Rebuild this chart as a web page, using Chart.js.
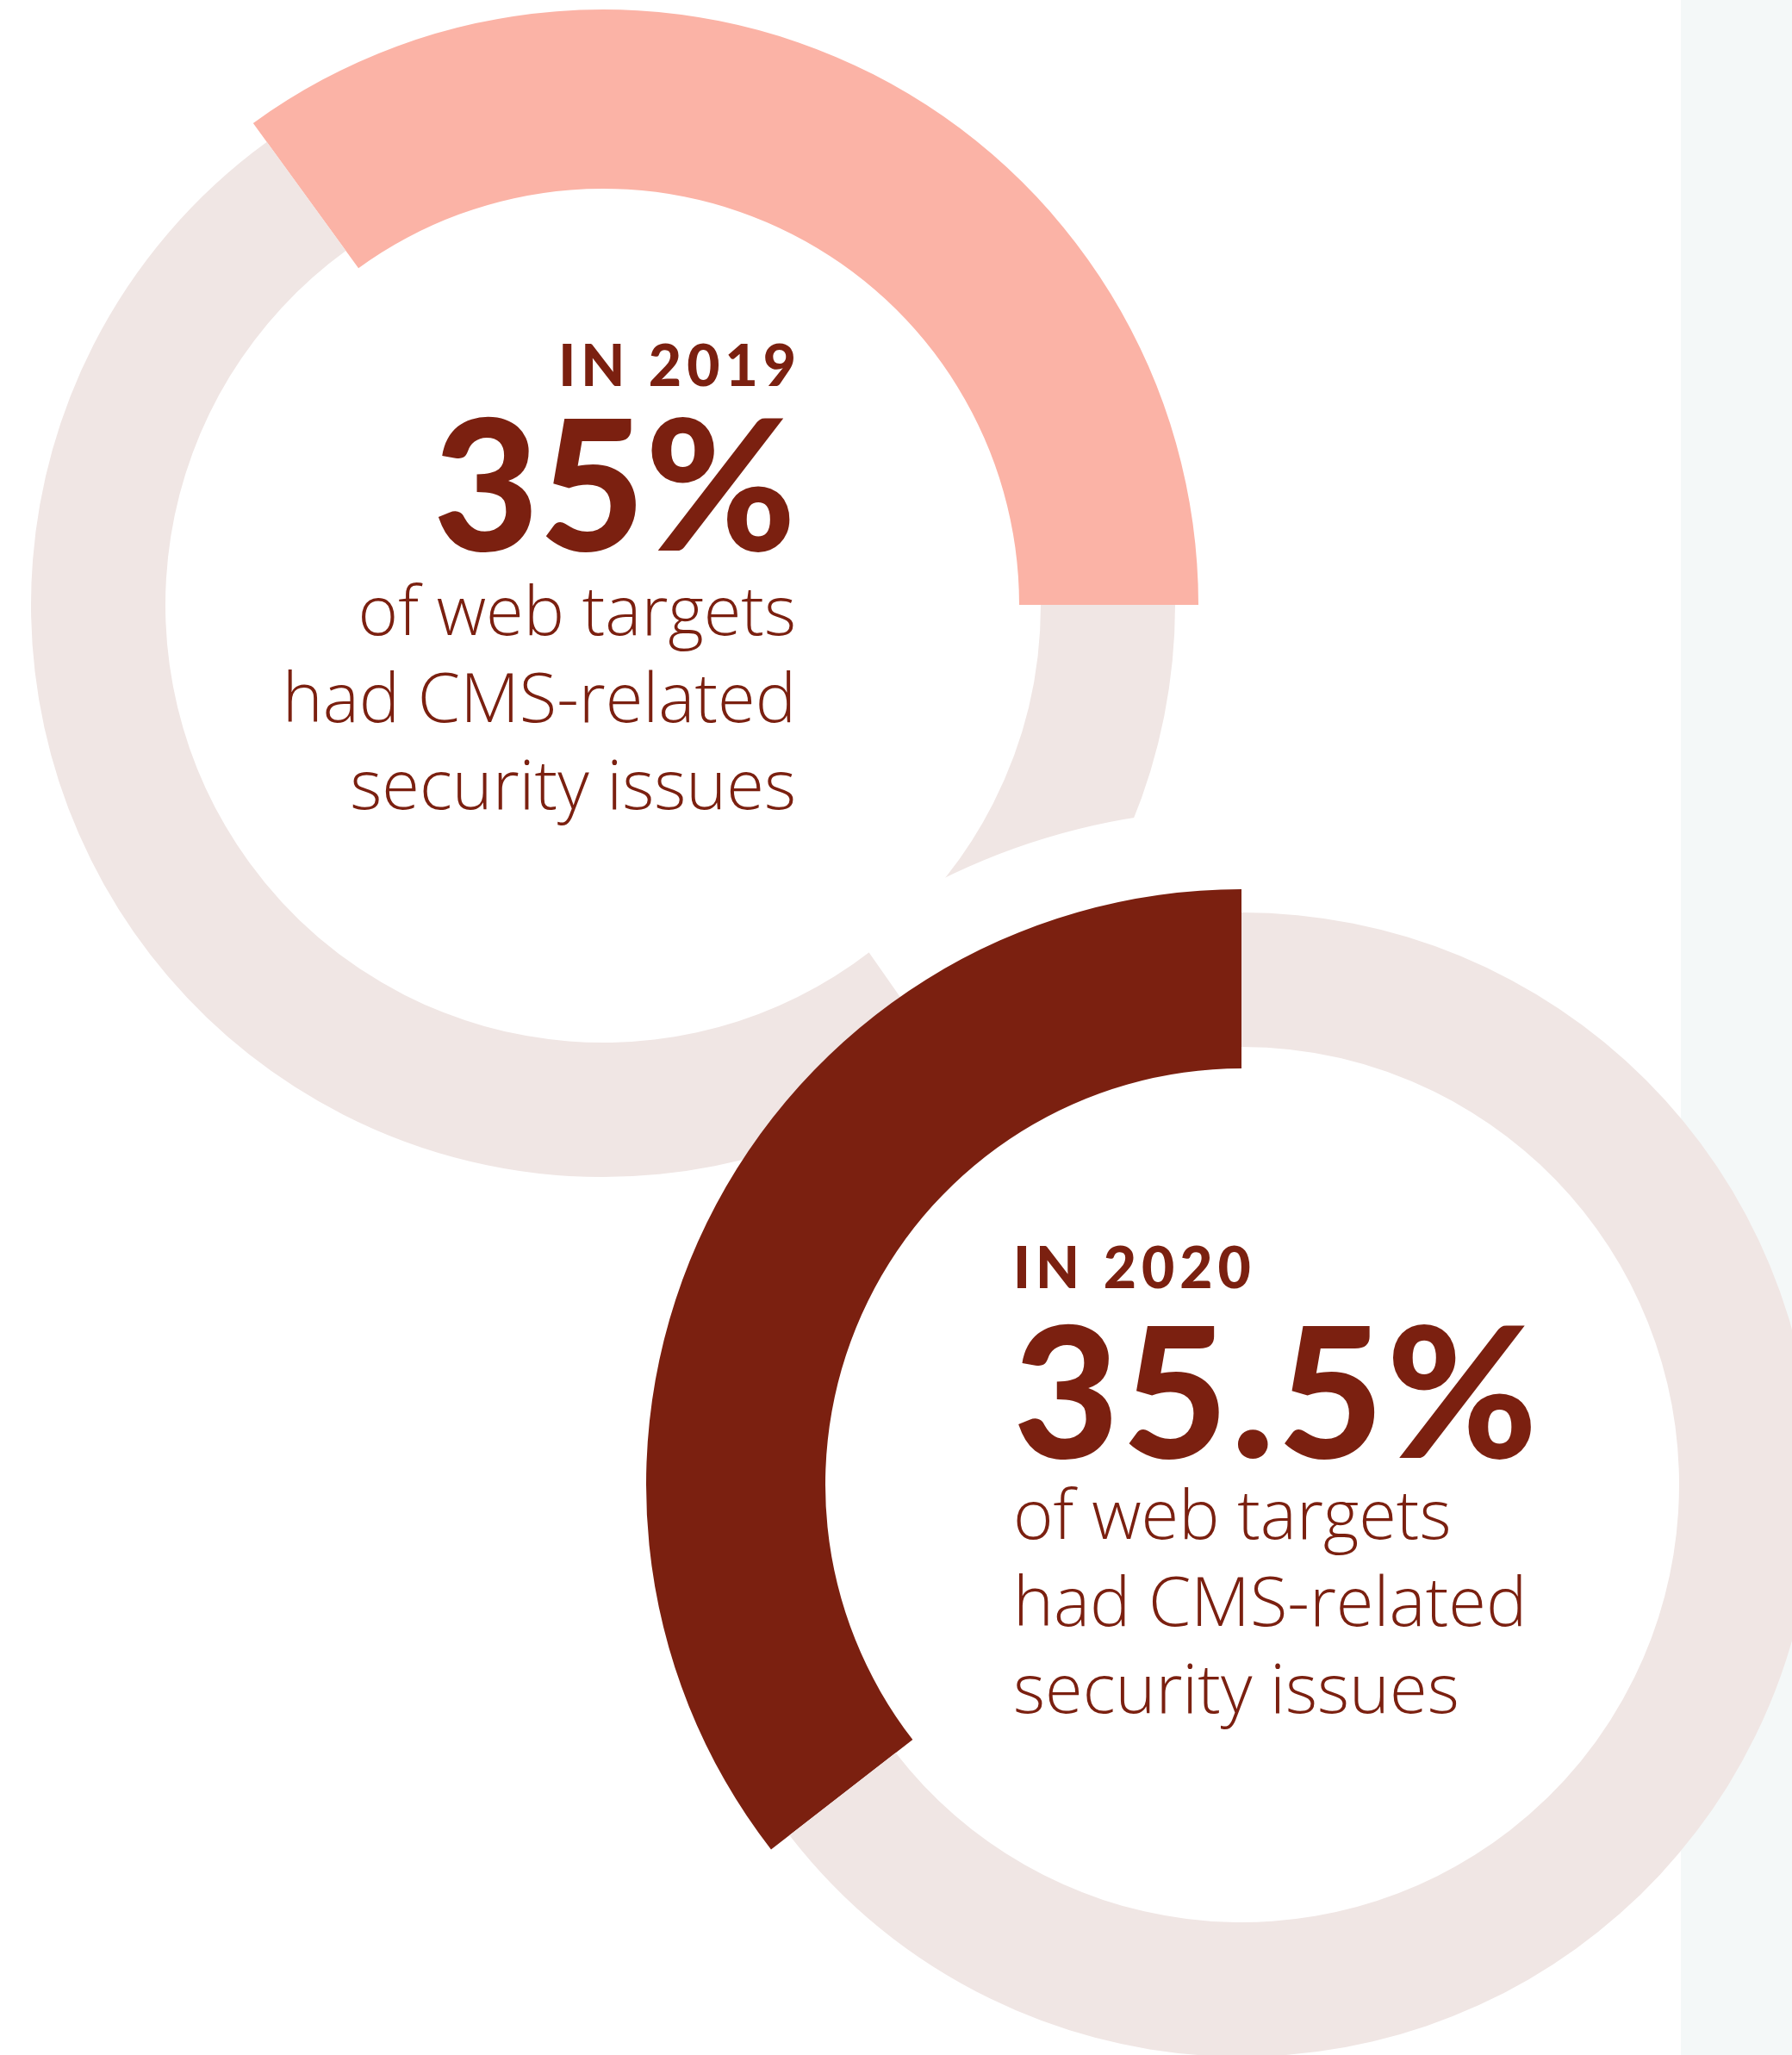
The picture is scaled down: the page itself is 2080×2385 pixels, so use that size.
<!DOCTYPE html>
<html>
<head>
<meta charset="utf-8">
<script src="https://cdn.jsdelivr.net/npm/chart.js@4.4.1/dist/chart.umd.min.js"></script>
<style>
  html, body { margin: 0; padding: 0; background: #fff; overflow: hidden; }
  #page { position: relative; width: 2080px; height: 2385px; overflow: hidden; background: #fff; }
  #panel { position: absolute; left: 1951px; top: 0; width: 129px; height: 2385px; background: #f4f8f8; }
  canvas { position: absolute; }
  #c2019 { left: 0; top: 2px; }
  #c2020 { left: 641px; top: 923px; }
  .txt { position: absolute; color: #7b2010; white-space: nowrap; }
  .year { font-family: Lato, sans-serif; font-weight: 900; font-size: 66px; line-height: 66px; letter-spacing: 6px; }
  .big { font-family: Lato, sans-serif; font-weight: 900; font-size: 212px; line-height: 212px; }
  .desc { font-family: "Open Sans", sans-serif; font-weight: 300; font-size: 79.5px; line-height: 101px; }
  .right { right: 1156px; text-align: right; }
  .left { left: 1176px; text-align: left; }
</style>
</head>
<body>
<div id="page">
  <div id="panel"></div>
  <canvas id="c2019" width="1400" height="1400"></canvas>
  <canvas id="c2020" width="1600" height="1600"></canvas>

  <div class="txt year right" id="y2019" style="top:390px; margin-right:-6px"></div>
  <div class="txt big right" id="v2019" style="top:451px"></div>
  <div class="txt desc right" id="d2019" style="top:656px"></div>

  <div class="txt year left" id="y2020" style="top:1437px"></div>
  <div class="txt big left" id="v2020" style="top:1504px; letter-spacing:3.5px"></div>
  <div class="txt desc left" id="d2020" style="top:1705px"></div>
</div>
<script>
var years = ['2019', '2020'];
var segments = ['CMS-related security issues', 'Other web targets'];
var values2019 = [35, 65];
var values2020 = [35.5, 64.5];
var captionLines = ['of web targets', 'had CMS-related', 'security issues'];

var track = '#f0e6e4';

// the highlighted slice is drawn wider than the grey track on both sides
var wideSlice = {
  id: 'wideSlice',
  afterDatasetsUpdate: function (chart, args, opts) {
    var arc = chart.getDatasetMeta(0).data[0];
    arc.innerRadius = opts.inner;
    arc.outerRadius = opts.outer;
  }
};

// white halo round the top of the 2020 ring, so it separates from the 2019 track
var halo = {
  id: 'halo',
  beforeDatasetsDraw: function (chart, args, opts) {
    if (!opts.radius) return;
    var arc = chart.getDatasetMeta(0).data[0];
    var ctx = chart.ctx;
    var a0 = (opts.fromDeg - 90) * Math.PI / 180;
    ctx.save();
    ctx.beginPath();
    ctx.rect(0, 0, opts.clipRight, chart.height);
    ctx.clip();
    ctx.beginPath();
    ctx.moveTo(arc.x, arc.y);
    ctx.arc(arc.x, arc.y, opts.radius + 10, a0, a0 + Math.PI * 0.75);
    ctx.closePath();
    ctx.clip();
    ctx.beginPath();
    ctx.arc(arc.x, arc.y, opts.radius, 0, Math.PI * 2);
    ctx.fillStyle = '#fff';
    ctx.fill();
    ctx.restore();
  }
};

function ring(id, values, color, rotation, haloOpts) {
  return new Chart(document.getElementById(id), {
    type: 'doughnut',
    data: {
      labels: segments,
      datasets: [{
        data: values,
        backgroundColor: [color, track],
        borderWidth: 0
      }]
    },
    options: {
      responsive: false,
      animation: false,
      devicePixelRatio: 1,
      events: [],
      rotation: rotation,
      radius: 664,
      cutout: (508 / 664 * 100) + '%',
      layout: { padding: 0 },
      plugins: {
        legend: { display: false },
        tooltip: { enabled: false },
        wideSlice: { inner: 483, outer: 691 },
        halo: haloOpts
      }
    },
    plugins: [wideSlice, halo]
  });
}

// 2019 slice ends at three o'clock, 2020 slice ends at twelve o'clock
ring('c2019', values2019, '#fbb3a6', 90 - values2019[0] * 3.6, { radius: 0 });
ring('c2020', values2020, '#7b2010', -values2020[0] * 3.6, { radius: 784, fromDeg: 325, clipRight: 1951 - 641 });

document.getElementById('y2019').textContent = 'IN ' + years[0];
document.getElementById('y2020').textContent = 'IN ' + years[1];
document.getElementById('v2019').textContent = values2019[0] + '%';
document.getElementById('v2020').textContent = values2020[0] + '%';
document.getElementById('d2019').innerHTML = captionLines.join('<br>');
document.getElementById('d2020').innerHTML = captionLines.join('<br>');
</script>
</body>
</html>
